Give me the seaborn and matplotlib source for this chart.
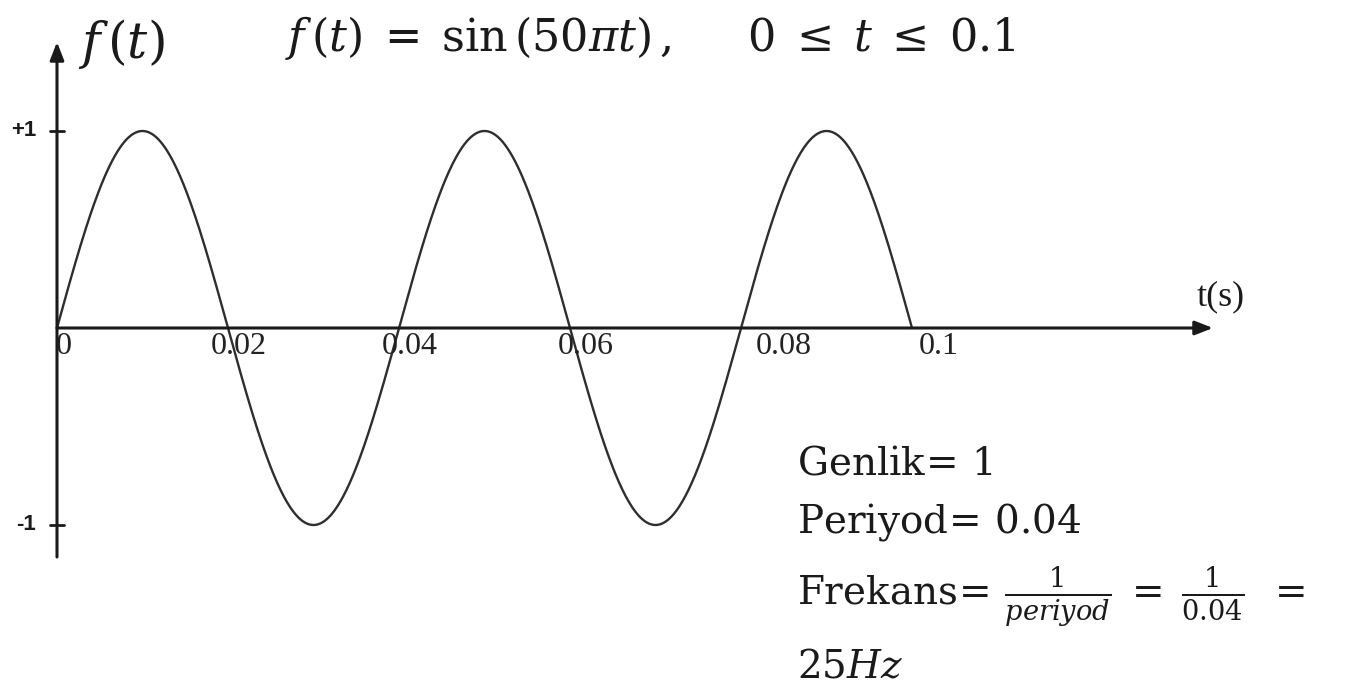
import numpy as np
import pandas as pd
import matplotlib
matplotlib.use("Agg")
import matplotlib.pyplot as plt
import seaborn as sns

# Signal definition: f(t) = A sin(2*pi*f0*t), 0 <= t <= 0.1
amplitude = 1.0
frequency_hz = 25.0
t_start, t_end = 0.0, 0.1
x_tick_values = [0.0, 0.02, 0.04, 0.06, 0.08, 0.1]
x_tick_labels = ["0", "0.02", "0.04", "0.06", "0.08", "0.1"]
y_tick_values = [1.0, -1.0]
y_tick_labels = ["+1", "-1"]

t = np.linspace(t_start, t_end, 801)
df = pd.DataFrame({"t": t, "f": amplitude * np.sin(2 * np.pi * frequency_hz * t)})

sns.set_theme(style="white")
plt.rcParams["mathtext.fontset"] = "dejavuserif"
plt.rcParams["font.family"] = ["Liberation Serif", "DejaVu Serif"]

W, H = 1347, 700
fig = plt.figure(figsize=(W / 100, H / 100), dpi=100)
ax = fig.add_axes([0, 0, 1, 1])

# pixel scale of the drawing
x_px = 8550.0   # pixels per second
y_px = 197.0    # pixels per unit amplitude
x0_px, y0_px = 57.0, 328.0
ax.set_xlim(-x0_px / x_px, (W - x0_px) / x_px)
ax.set_ylim(-(H - y0_px) / y_px, y0_px / y_px)
ax.axis("off")

def P(x, y):
    """figure-pixel position (from top-left) to figure fraction"""
    return x / W, 1 - y / H

ink = "#1a1a1a"

# axes with arrow heads
ax.annotate("", xy=((1213 - x0_px) / x_px, 0), xytext=(0, 0),
            arrowprops=dict(arrowstyle="-|>,head_length=0.9,head_width=0.35",
                            color=ink, lw=2.2, shrinkA=0, shrinkB=0))
ax.annotate("", xy=(0, (y0_px - 42) / y_px), xytext=(0, (y0_px - 557) / y_px),
            arrowprops=dict(arrowstyle="-|>,head_length=0.9,head_width=0.35",
                            color=ink, lw=2.2, shrinkA=0, shrinkB=0))

# the signal
sns.lineplot(data=df, x="t", y="f", ax=ax, color="#2e2e2e", lw=1.7,
             estimator=None, sort=False)

# y ticks and labels
for v, lab in zip(y_tick_values, y_tick_labels):
    ax.plot([-7 / x_px, 7 / x_px], [v, v], color=ink, lw=2.0)
    ax.annotate(lab, xy=(0, v), xytext=(-15, 0), textcoords="offset points",
                ha="right", va="center", fontsize=16, fontweight="bold",
                family=["Liberation Sans", "DejaVu Sans"], color=ink)

# x tick labels, set just below the axis
x_label_shift = [5, 8, 8, 11, 31, 19]
for v, lab, s in zip(x_tick_values, x_tick_labels, x_label_shift):
    ax.annotate(lab, xy=(v, 0), xytext=(s, -3), textcoords="offset points",
                ha="center", va="top", fontsize=23, color="#222222")

# axis names
fig.text(*P(1197, 297), "t(s)", fontsize=26, ha="left", va="center", color=ink)
fig.text(*P(78, 44), r"$f\,(t)$", fontsize=36, ha="left", va="center", color=ink)

# title formula
fig.text(*P(285, 38),
         r"$f\,(t)\;=\;\mathrm{sin}\,(50\pi t)\,,\quad\;\; 0\;\leq\; t\;\leq\; 0.1$",
         fontsize=32, ha="left", va="center", color=ink)

# summary of the signal parameters
tx = 797
fs = 28
fig.text(*P(tx, 465), r"$\mathrm{Genlik}\!=\,1$", fontsize=fs, ha="left", va="center", color=ink)
fig.text(*P(tx, 522), r"$\mathrm{Periyod}\!=\,0.04$", fontsize=fs, ha="left", va="center", color=ink)
fig.text(*P(tx, 597),
         r"$\mathrm{Frekans}\!=\,\frac{1}{periyod}\;=\;\frac{1}{0.04}\;\;=$",
         fontsize=fs, ha="left", va="center", color=ink)
fig.text(*P(tx, 668), r"$25Hz$", fontsize=fs, ha="left", va="center", color=ink)

fig.savefig("out.png", dpi=100, facecolor="white")
